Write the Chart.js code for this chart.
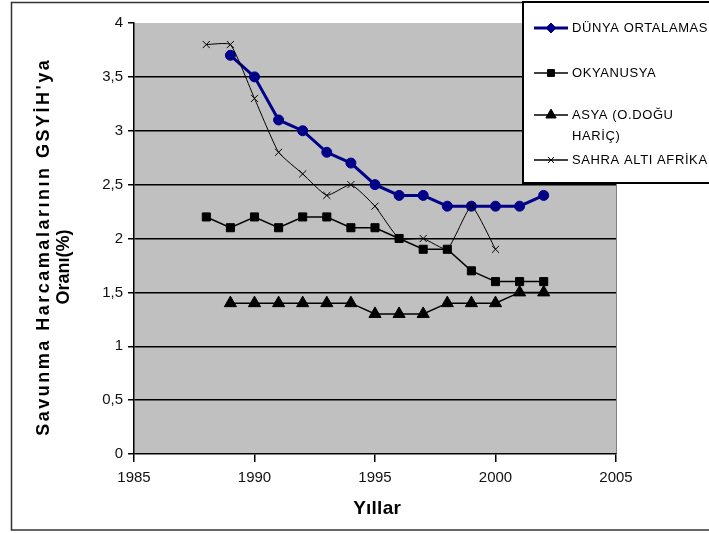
<!DOCTYPE html>
<html>
<head>
<meta charset="utf-8">
<script src="https://cdn.jsdelivr.net/npm/chart.js@4.4.1/dist/chart.umd.min.js"></script>
<style>
html,body{margin:0;padding:0;background:#fff;}
#wrap{width:709px;height:533px;position:relative;overflow:hidden;}
</style>
</head>
<body>
<div id="wrap"><canvas id="c" width="709" height="533"></canvas></div>
<script>
// ---- data ----
const years = [1988,1989,1990,1991,1992,1993,1994,1995,1996,1997,1998,1999,2000,2001,2002];
const dunya = [null,3.7,3.5,3.1,3.0,2.8,2.7,2.5,2.4,2.4,2.3,2.3,2.3,2.3,2.4];
const okyanusya = [2.2,2.1,2.2,2.1,2.2,2.2,2.1,2.1,2.0,1.9,1.9,1.7,1.6,1.6,1.6];
const asya = [null,1.4,1.4,1.4,1.4,1.4,1.4,1.3,1.3,1.3,1.4,1.4,1.4,1.5,1.5];
const sahra = [3.8,3.8,3.3,2.8,2.6,2.4,2.5,2.3,2.0,2.0,1.9,2.3,1.9,null,null];
const seriesNames = ['DÜNYA ORTALAMAS', 'OKYANUSYA', ['ASYA (O.DOĞU', 'HARİÇ)'], 'SAHRA ALTI AFRİKA'];
const xTicks = [1985,1990,1995,2000,2005];
const yTicks = [0,0.5,1,1.5,2,2.5,3,3.5,4];
const yTitle = ["Savunma Harcamalarının GSYİH'ya", 'Oranı(%)'];
const xTitle = 'Yıllar';

const toPoints = arr => years.map((yr,i)=>({x:yr,y:arr[i]})).filter(p=>p.y!==null);
const FONT = "'Liberation Sans', Arial, sans-serif";

function spacedText(ctx, text, cx, cy, target, rot){
  ctx.save();
  ctx.translate(cx,cy);
  if(rot) ctx.rotate(rot);
  ctx.letterSpacing = '0px';
  const w = ctx.measureText(text).width;
  const sp = Math.max(0,(target - w)/text.length);
  ctx.letterSpacing = sp + 'px';
  ctx.textAlign = 'center';
  ctx.textBaseline = 'middle';
  ctx.fillText(text, sp/2, 0);
  ctx.restore();
}

const frame = {
  id:'frame',
  beforeDraw(chart){
    const {ctx, chartArea:a} = chart;
    ctx.save();
    ctx.fillStyle = '#fff';
    ctx.fillRect(0,0,chart.width,chart.height);
    ctx.strokeStyle = '#333';
    ctx.lineWidth = 1.5;
    ctx.strokeRect(11.5,2.5,760,527.5);
    ctx.fillStyle = '#c0c0c0';
    ctx.fillRect(a.left,a.top,a.right-a.left,a.bottom-a.top);
    ctx.strokeStyle = '#808080';
    ctx.lineWidth = 1;
    ctx.beginPath();
    ctx.moveTo(a.right+0.5,a.top); ctx.lineTo(a.right+0.5,a.bottom);
    ctx.stroke();
    ctx.restore();
  },
  afterDraw(chart){
    const ctx = chart.ctx;
    // axis titles
    ctx.save();
    ctx.fillStyle = '#000';
    ctx.font = 'bold 18px ' + FONT;
    spacedText(ctx, yTitle[0], 44, 248, 378, -Math.PI/2);
    spacedText(ctx, yTitle[1], 64, 267, 74, -Math.PI/2);
    ctx.font = 'bold 19px ' + FONT;
    spacedText(ctx, xTitle, 377, 509, 48, 0);
    ctx.restore();

    // legend
    ctx.save();
    ctx.fillStyle = '#fff';
    ctx.fillRect(523,2,200,181);
    ctx.strokeStyle = '#000';
    ctx.lineWidth = 2;
    ctx.strokeRect(523,2,200,181);
    const rowsY = [28,73,115,160];
    chart.data.datasets.forEach((ds,i)=>{
      const y = rowsY[i];
      ctx.strokeStyle = ds.borderColor;
      ctx.lineWidth = Math.max(1.5, ds.borderWidth);
      ctx.beginPath(); ctx.moveTo(534,y); ctx.lineTo(568,y); ctx.stroke();
      ctx.fillStyle = ds.backgroundColor;
      ctx.strokeStyle = ds.borderColor;
      ctx.lineWidth = 1;
      Chart.helpers.drawPoint(ctx, {pointStyle: i===0 ? 'rectRot' : ds.pointStyle, radius: i===0 ? 5 : ds.pointRadius*0.85, rotation:0, borderWidth:1}, 551, y);
      ctx.fillStyle = '#000';
      ctx.font = '13px ' + FONT;
      ctx.letterSpacing = '0.6px';
      ctx.textAlign = 'left';
      ctx.textBaseline = 'middle';
      const lbl = Array.isArray(seriesNames[i]) ? seriesNames[i] : [seriesNames[i]];
      lbl.forEach((t,k)=> ctx.fillText(t, 572, y + k*21));
    });
    ctx.restore();
  }
};

new Chart(document.getElementById('c'), {
  type:'line',
  data:{
    datasets:[
      {label: seriesNames[0], data: toPoints(dunya), borderColor:'#000088', backgroundColor:'#000088',
       borderWidth:3, pointStyle:'circle', pointRadius:5, pointBorderWidth:1, order:4},
      {label: seriesNames[1], data: toPoints(okyanusya), borderColor:'#000', backgroundColor:'#000',
       borderWidth:1.5, pointStyle:'rect', pointRadius:5.7, pointBorderWidth:1, order:3},
      {label: seriesNames[2].join(' '), data: toPoints(asya), borderColor:'#000', backgroundColor:'#000',
       borderWidth:1.5, pointStyle:'triangle', pointRadius:7, pointBorderWidth:1, order:2},
      {label: seriesNames[3], data: toPoints(sahra), borderColor:'#000', backgroundColor:'#000',
       borderWidth:1, pointStyle:'crossRot', pointRadius:5, pointBorderWidth:1, tension:0.15, order:1}
    ]
  },
  options:{
    responsive:false,
    animation:false,
    layout:{padding:{top:23,right:93,bottom:0,left:0}},
    plugins:{legend:{display:false},tooltip:{enabled:false},title:{display:false}},
    scales:{
      x:{
        type:'linear', min:1985, max:2005,
        afterBuildTicks: s => { s.ticks = xTicks.map(v=>({value:v})); },
        afterFit: s => { s.height = 79; },
        grid:{drawOnChartArea:false, drawTicks:true, tickLength:8, color:'#000', lineWidth:1.5},
        border:{display:true, color:'#000', width:1.5},
        ticks:{callback: v => String(v), font:{family:FONT, size:15}, color:'#111', padding:7, maxRotation:0}
      },
      y:{
        min:0, max:4,
        afterBuildTicks: s => { s.ticks = yTicks.map(v=>({value:v})); },
        afterFit: s => { s.width = 134; },
        grid:{
          color: c => (c.tick && (c.tick.value===0 || c.tick.value===4)) ? 'rgba(0,0,0,0)' : '#000',
          tickColor:'#000', lineWidth:1.5, drawTicks:true, tickLength:6
        },
        border:{display:true, color:'#000', width:1.5},
        ticks:{callback: v => String(v).replace('.', ','), font:{family:FONT, size:15}, color:'#111', padding:5}
      }
    }
  },
  plugins:[frame]
});
</script>
</body>
</html>
